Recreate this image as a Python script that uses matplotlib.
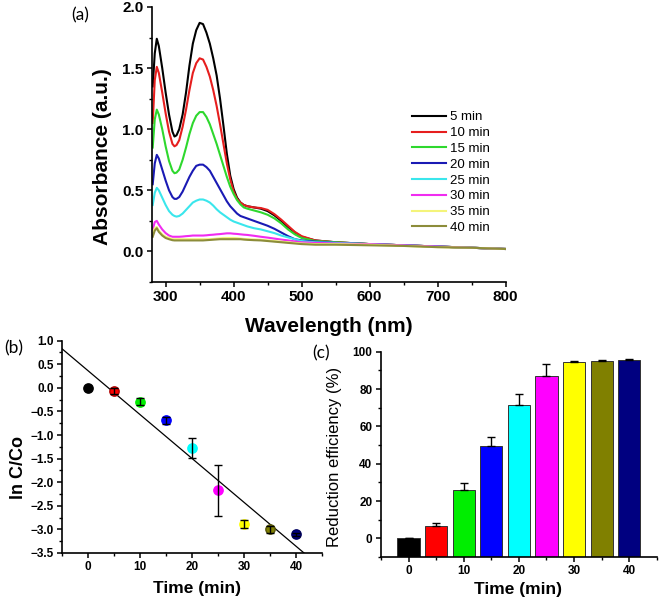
import numpy as np
import matplotlib
matplotlib.use('Agg')
import matplotlib.pyplot as plt
from matplotlib.ticker import MultipleLocator

plt.rcParams['font.family'] = 'Liberation Sans'
plt.rcParams['font.weight'] = 'bold'
plt.rcParams['axes.labelweight'] = 'bold'

# ---- data ----
# (a) absorbance spectra
wavelength = [281, 284, 287, 290, 295, 300, 305, 310, 313, 316, 320, 325, 330, 335, 340, 345,
              350, 355, 360, 365, 370, 375, 380, 385, 390, 395, 400, 405, 410, 415, 420, 430,
              440, 450, 460, 470, 480, 490, 500, 520, 550, 600, 650, 700, 750, 800]
abs_5 = [1.35, 1.62, 1.74, 1.68, 1.50, 1.30, 1.12, 0.98, 0.94, 0.95, 1.00, 1.12, 1.30, 1.52, 1.70, 1.81,
         1.87, 1.86, 1.79, 1.70, 1.58, 1.44, 1.25, 1.03, 0.80, 0.62, 0.51, 0.44, 0.40, 0.38, 0.37, 0.36,
         0.35, 0.33, 0.295, 0.25, 0.20, 0.155, 0.12, 0.09, 0.075, 0.06, 0.05, 0.04, 0.03, 0.02]
abs_10 = [1.05, 1.40, 1.51, 1.46, 1.30, 1.13, 0.98, 0.88, 0.86, 0.87, 0.91, 1.02, 1.16, 1.32, 1.46, 1.54,
          1.58, 1.57, 1.51, 1.43, 1.32, 1.19, 1.04, 0.88, 0.72, 0.59, 0.49, 0.43, 0.40, 0.38, 0.37, 0.36,
          0.355, 0.34, 0.305, 0.26, 0.21, 0.16, 0.125, 0.09, 0.075, 0.06, 0.05, 0.04, 0.03, 0.02]
abs_15 = [0.85, 1.08, 1.16, 1.12, 1.00, 0.86, 0.74, 0.66, 0.64, 0.645, 0.67, 0.75, 0.85, 0.96, 1.05, 1.11,
          1.14, 1.14, 1.10, 1.04, 0.96, 0.88, 0.79, 0.70, 0.61, 0.53, 0.47, 0.42, 0.385, 0.36, 0.35, 0.335,
          0.32, 0.30, 0.27, 0.23, 0.18, 0.14, 0.11, 0.085, 0.075, 0.06, 0.05, 0.04, 0.03, 0.02]
abs_20 = [0.55, 0.72, 0.79, 0.76, 0.67, 0.58, 0.50, 0.445, 0.43, 0.43, 0.445, 0.49, 0.55, 0.61, 0.66, 0.70,
          0.71, 0.71, 0.69, 0.66, 0.61, 0.56, 0.51, 0.46, 0.41, 0.37, 0.34, 0.31, 0.29, 0.28, 0.27, 0.25,
          0.23, 0.21, 0.185, 0.155, 0.125, 0.10, 0.09, 0.08, 0.07, 0.06, 0.05, 0.04, 0.03, 0.02]
abs_25 = [0.38, 0.48, 0.52, 0.50, 0.44, 0.38, 0.33, 0.30, 0.29, 0.285, 0.29, 0.31, 0.34, 0.37, 0.40, 0.415,
          0.425, 0.425, 0.415, 0.40, 0.375, 0.345, 0.32, 0.30, 0.28, 0.26, 0.245, 0.235, 0.225, 0.215, 0.205, 0.19,
          0.18, 0.165, 0.15, 0.13, 0.115, 0.10, 0.085, 0.075, 0.07, 0.06, 0.05, 0.04, 0.03, 0.02]
abs_30 = [0.18, 0.24, 0.25, 0.22, 0.18, 0.15, 0.13, 0.12, 0.12, 0.12, 0.12, 0.122, 0.125, 0.127, 0.13, 0.13,
          0.13, 0.13, 0.132, 0.135, 0.137, 0.14, 0.142, 0.145, 0.148, 0.148, 0.145, 0.143, 0.14, 0.137, 0.135, 0.128,
          0.12, 0.113, 0.105, 0.097, 0.09, 0.082, 0.075, 0.07, 0.065, 0.06, 0.05, 0.04, 0.03, 0.02]
abs_35 = [0.14, 0.19, 0.20, 0.17, 0.14, 0.12, 0.11, 0.10, 0.10, 0.10, 0.10, 0.10, 0.10, 0.10, 0.10, 0.10,
          0.10, 0.10, 0.10, 0.10, 0.102, 0.105, 0.107, 0.11, 0.11, 0.11, 0.11, 0.108, 0.105, 0.102, 0.10, 0.098,
          0.095, 0.09, 0.085, 0.08, 0.075, 0.07, 0.065, 0.06, 0.06, 0.055, 0.045, 0.035, 0.03, 0.02]
abs_40 = [0.12, 0.17, 0.19, 0.16, 0.13, 0.11, 0.10, 0.092, 0.09, 0.09, 0.09, 0.09, 0.09, 0.09, 0.09, 0.09,
          0.09, 0.09, 0.092, 0.094, 0.096, 0.098, 0.10, 0.10, 0.10, 0.10, 0.10, 0.10, 0.10, 0.097, 0.095, 0.092,
          0.09, 0.085, 0.08, 0.075, 0.07, 0.065, 0.06, 0.055, 0.055, 0.05, 0.045, 0.035, 0.03, 0.02]
spectra = [abs_5, abs_10, abs_15, abs_20, abs_25, abs_30, abs_35, abs_40]
spectrum_labels = ['5 min', '10 min', '15 min', '20 min', '25 min', '30 min', '35 min', '40 min']
spectrum_colors = ['black', '#e61e1e', '#2ed82e', '#1a1ab4', '#3ae6ec', '#f02cf0', '#f4f47a', '#8c8c3a']

# (b) kinetics ln(C/Co)
time_min = [0, 5, 10, 15, 20, 25, 30, 35, 40]
ln_c = [0.0, -0.07, -0.29, -0.69, -1.27, -2.17, -2.89, -3.0, -3.1]
ln_c_err = [0.0, 0.06, 0.07, 0.07, 0.21, 0.54, 0.085, 0.07, 0.03]

# (c) reduction efficiency
efficiency = [0.0, 6.8, 25.7, 49.3, 71.6, 86.9, 94.6, 95.1, 95.6]
efficiency_err = [0.0, 1.6, 3.9, 5.1, 5.6, 6.7, 0.5, 0.4, 0.3]
point_colors = ['black', '#ff0000', '#00ee00', '#0000ff', '#00ffff', '#ff00ff', '#ffff00', '#808000', '#000080']
point_edges = ['black', '#b00000', '#00ee00', '#0000ff', '#00ffff', '#ff00ff', '#ffff00', '#55550a', '#000060']

fig = plt.figure(figsize=(6.59, 6.01), dpi=100)


def style_axes(ax, tick_size):
    for side in ['top', 'right']:
        ax.spines[side].set_visible(False)
    for side in ['left', 'bottom']:
        ax.spines[side].set_linewidth(1.2)
    ax.tick_params(which='major', direction='out', length=3.6, width=1.1, labelsize=tick_size, pad=2.5)
    ax.tick_params(which='minor', direction='out', length=2.2, width=1.0)


# ---- (a) spectra ----
ax_a = fig.add_axes([0.2307, 0.5308, 0.5366, 0.4576])
for vals, lab, col in zip(spectra, spectrum_labels, spectrum_colors):
    ax_a.plot(wavelength, vals, color=col, lw=1.5, label=lab)
ax_a.set_xlim(280, 800)
ax_a.set_ylim(-0.25, 2.0)
ax_a.xaxis.set_major_locator(MultipleLocator(100))
ax_a.xaxis.set_minor_locator(MultipleLocator(50))
ax_a.yaxis.set_major_locator(MultipleLocator(0.5))
ax_a.yaxis.set_minor_locator(MultipleLocator(0.25))
style_axes(ax_a, 11)
ax_a.set_xlabel('Wavelength (nm)', fontsize=15, va='center')
ax_a.xaxis.set_label_coords(0.5, -0.163)
ax_a.set_ylabel('Absorbance (a.u.)', fontsize=15, va='center')
ax_a.yaxis.set_label_coords(-0.14, 0.455)
ax_a.legend(loc='upper left', bbox_to_anchor=(0.735, 0.621), frameon=False, borderpad=0,
            borderaxespad=0, handlelength=2.6, handletextpad=0.25, labelspacing=0.27,
            prop={'size': 9.5, 'weight': 'normal'})

# ---- (b) ln C/Co ----
ax_b = fig.add_axes([0.0945, 0.0799, 0.394, 0.3532])
slope, intercept = np.polyfit(time_min, ln_c, 1)
fit_x = np.array([-5, 45])
ax_b.plot(fit_x, slope * fit_x + intercept, color='black', lw=0.9, zorder=2)
for t, v, fc, ec in zip(time_min, ln_c, point_colors, point_edges):
    ax_b.plot(t, v, 'o', ms=6.7, mfc=fc, mec=ec, mew=1.0, zorder=3)
ax_b.errorbar(time_min, ln_c, yerr=ln_c_err, fmt='none', ecolor='black', elinewidth=1.0,
              capsize=3.2, capthick=1.0, zorder=4)
ax_b.set_xlim(-5, 45)
ax_b.set_ylim(-3.5, 1.0)
ax_b.xaxis.set_major_locator(MultipleLocator(10))
ax_b.xaxis.set_minor_locator(MultipleLocator(5))
ax_b.yaxis.set_major_locator(MultipleLocator(0.5))
ax_b.yaxis.set_minor_locator(MultipleLocator(0.25))
style_axes(ax_b, 8.5)
ax_b.set_xlabel('Time (min)', fontsize=12.5, va='center')
ax_b.xaxis.set_label_coords(0.5175, -0.165)
ax_b.set_ylabel('ln C/Co', fontsize=13, va='center')
ax_b.yaxis.set_label_coords(-0.167, 0.405)

# ---- (c) reduction efficiency ----
ax_c = fig.add_axes([0.578, 0.0732, 0.4188, 0.3416])
y_floor = -10
ax_c.bar(time_min, np.array(efficiency) - y_floor, bottom=y_floor, width=4.0,
         color=point_colors, edgecolor='#333333', linewidth=0.7, zorder=2)
ax_c.errorbar(time_min, efficiency, yerr=[np.zeros(len(efficiency)), efficiency_err], fmt='none',
              ecolor='black', elinewidth=1.0, capsize=2.6, capthick=1.0, zorder=3)
ax_c.set_xlim(-5, 45)
ax_c.set_ylim(y_floor, 100)
ax_c.xaxis.set_major_locator(MultipleLocator(10))
ax_c.xaxis.set_minor_locator(MultipleLocator(5))
ax_c.yaxis.set_major_locator(MultipleLocator(20))
ax_c.yaxis.set_minor_locator(MultipleLocator(10))
style_axes(ax_c, 8.5)
ax_c.set_xlabel('Time (min)', fontsize=12.5, va='center')
ax_c.xaxis.set_label_coords(0.4975, -0.16)
ax_c.set_ylabel('Reduction efficiency (%)', fontsize=12, fontweight='normal', va='center')
ax_c.yaxis.set_label_coords(-0.167, 0.487)

# panel letters
for lx, ly, letter in [(0.121, 0.975, '(a)'), (0.0205, 0.42, '(b)'), (0.487, 0.412, '(c)')]:
    fig.text(lx, ly, letter, fontsize=12.5, fontweight='normal', family='Lato', ha='center', va='center')

fig.savefig('out.png', dpi=100)
